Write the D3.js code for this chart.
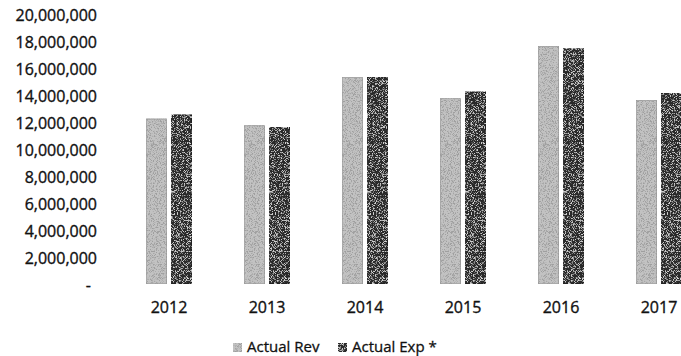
<!DOCTYPE html>
<html>
<head>
<meta charset="utf-8">
<script src="https://cdn.jsdelivr.net/npm/d3@7"></script>
<style>
  html, body { margin: 0; padding: 0; background: #fff; }
  svg { display: block; }
  text { font-family: "Open Sans", sans-serif; fill: #111; }
</style>
</head>
<body>
<svg id="chart" width="681" height="356"></svg>
<script>
const years = ["2012", "2013", "2014", "2015", "2016", "2017"];
const actualRev = [12300000, 11800000, 15400000, 13800000, 17700000, 13700000];
const actualExp = [12600000, 11700000, 15400000, 14300000, 17500000, 14200000];
const seriesNames = ["Actual Rev", "Actual Exp *"];
const yTicks = [0, 2000000, 4000000, 6000000, 8000000, 10000000, 12000000, 14000000, 16000000, 18000000, 20000000];

const svg = d3.select("#chart");

const defs = svg.append("defs");
// speckled, scan-like texture (deterministic turbulence)
function speckle(id, dot, freq, slope, intercept, seed) {
  const f = defs.append("filter").attr("id", id)
    .attr("x", 0).attr("y", 0).attr("width", 1).attr("height", 1);
  f.append("feTurbulence").attr("type", "fractalNoise").attr("baseFrequency", freq)
    .attr("numOctaves", 2).attr("seed", seed).attr("result", "n");
  f.append("feColorMatrix").attr("in", "n").attr("type", "matrix")
    .attr("values", `0 0 0 0 ${dot} 0 0 0 0 ${dot} 0 0 0 0 ${dot} ${slope} 0 0 0 ${intercept}`)
    .attr("result", "d");
  f.append("feComposite").attr("in", "d").attr("in2", "SourceGraphic").attr("operator", "atop");
}
speckle("texRev", 0.35, 1.3, 6, -2.9, 3);
speckle("texExp", 0.62, 1.3, 6, -3.1, 7);

const x = d3.scaleBand().domain(years).range([120, 708]).padding(0);
const xs = d3.scaleBand().domain(seriesNames).range([0, 46]).paddingInner(0.2).paddingOuter(0);
const y = d3.scaleLinear().domain([0, 20000000]).range([285, 15]);

const fills = ["#c2c2c2", "#2c2c2c"];
const strokes = ["#8a8a8a", "#161616"];
const filters = ["url(#texRev)", "url(#texExp)"];
const values = [actualRev, actualExp];

// Y axis labels
const yAxis = d3.axisLeft(y).tickValues(yTicks).tickSize(0).tickPadding(0)
  .tickFormat(d => d === 0 ? "-" : d3.format(",")(d));
const gy = svg.append("g").attr("transform", "translate(97,0)").call(yAxis);
gy.select(".domain").remove();
gy.selectAll("text").style("font-family", "'Open Sans', sans-serif").style("font-size", "16px")
  .attr("fill", "#111").attr("stroke", "#111").attr("stroke-width", 0.35);
gy.selectAll(".tick").filter(d => d === 0).select("text").attr("dx", "-6px");

// Bars
const groups = svg.append("g").selectAll("g").data(years).join("g")
  .attr("transform", d => `translate(${x(d) + x.bandwidth() / 2 - 23},0)`);
seriesNames.forEach((s, si) => {
  groups.append("rect")
    .attr("x", xs(s))
    .attr("width", xs.bandwidth())
    .attr("y", (d, i) => y(values[si][i]))
    .attr("height", (d, i) => y(0) - y(values[si][i]) - 1)
    .attr("fill", fills[si])
    .attr("stroke", strokes[si])
    .attr("stroke-width", 0.8)
    .attr("filter", filters[si]);
});

// X axis labels
const xAxis = d3.axisBottom(x).tickSize(0).tickPadding(0);
const gx = svg.append("g").attr("transform", "translate(0,302)").call(xAxis);
gx.select(".domain").remove();
gx.selectAll("text").style("font-family", "'Open Sans', sans-serif").style("font-size", "16px")
  .attr("fill", "#111").attr("stroke", "#111").attr("stroke-width", 0.35).attr("dy", "0.71em");

// Legend
const legend = svg.append("g");
const legendX = [233, 338];
seriesNames.forEach((s, i) => {
  const g = legend.append("g").attr("transform", `translate(${legendX[i]},0)`);
  g.append("rect").attr("x", 0).attr("y", 343).attr("width", 9).attr("height", 9)
    .attr("fill", fills[i]).attr("filter", filters[i]);
  g.append("text").attr("x", 14).attr("y", 352).style("font-size", "15px")
    .attr("stroke", "#111").attr("stroke-width", 0.3).text(s);
});
</script>
</body>
</html>
